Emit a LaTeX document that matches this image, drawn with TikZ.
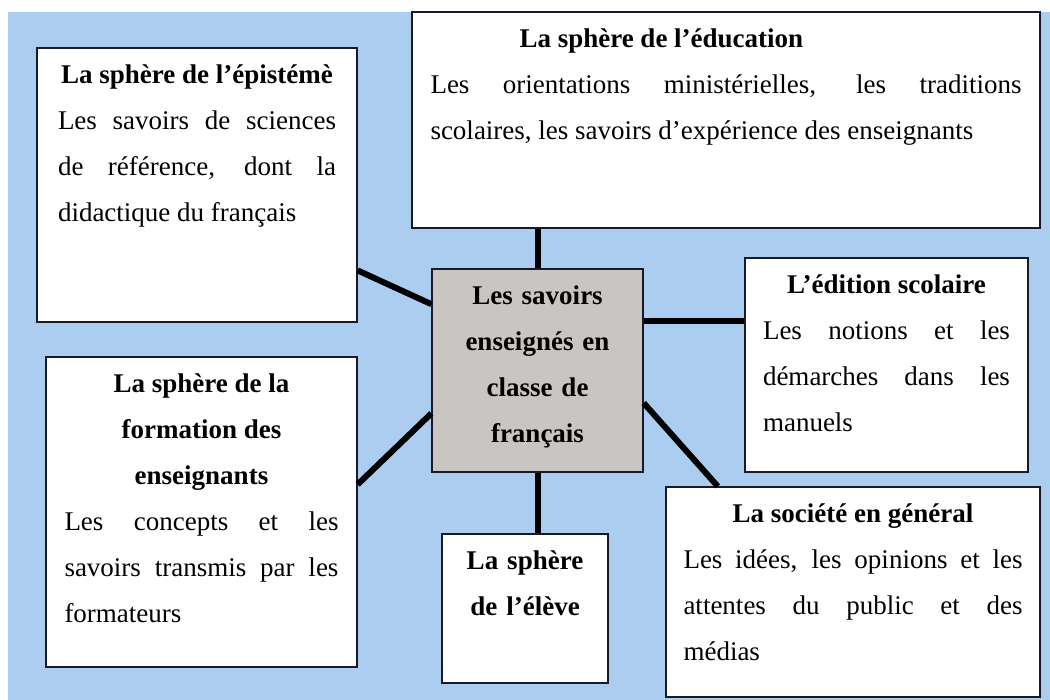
\documentclass[tikz,border=0pt]{standalone}
\usepackage{fontspec}
\setmainfont{Liberation Serif}
\usetikzlibrary{positioning}
\definecolor{fond}{RGB}{170,205,240}
\definecolor{cadre}{RGB}{25,25,40}
\definecolor{gris}{RGB}{200,197,194}
\hyphenpenalty=10000
\exhyphenpenalty=10000
\tolerance=9999
\begin{document}
\begin{tikzpicture}[x=1pt, y=-1pt,
      box/.style={draw=cadre,line width=1.3pt,fill=white,inner sep=0},
      hub/.style={box,fill=gris},
      txt/.style={inner sep=0,align=justify,font=\fontsize{27}{46}\selectfont},
      mid/.style={txt,align=center,font=\fontsize{27}{46}\selectfont\bfseries},
      link/.style={line width=6pt,draw=black} ]
      % background
      \useasboundingbox (0,0) rectangle (1050,700);
      \fill[fond] (8,12) rectangle (1050,700);

      % boxes
      \node[box,minimum width=320pt,minimum height=274pt] (epi) at (197,185) {};
      \node[box,minimum width=628pt,minimum height=216pt] (edu) at (726,120) {};
      \node[hub,minimum width=211pt,minimum height=203pt] (centre) at (537.5,370.5) {};
      \node[box,minimum width=283pt,minimum height=214pt] (edit) at (886.5,365) {};
      \node[box,minimum width=311pt,minimum height=310pt] (form) at (201.5,512) {};
      \node[box,minimum width=166pt,minimum height=149pt] (eleve) at (525,608.5) {};
      \node[box,minimum width=374pt,minimum height=210pt] (soc) at (853,592) {};

      % links
      \draw[link] (edu.south -| centre.north) -- (centre.north);
      \draw[link] (centre.south) -- (centre.south |- eleve.north);
      \draw[link] (centre.25) -- (centre.25 -| edit.west);
      \draw[link] (epi.-28.5) -- (centre.148);
      \draw[link] (form.10) -- (centre.202);
      \draw[link] (centre.-17) -- (soc.142);

      % texts
      \node[txt,text width=278pt,below=17pt of epi.north] (epi-t)
        {{\centering\bfseries La sphère de l’épistémè\par}
         Les savoirs de sciences\linebreak de référence, dont la\linebreak didactique du français};
      \node[txt,text width=591pt,below=17pt of edu.north] (edu-t)
        {\hspace*{89pt}\textbf{La sphère de l’éducation}\par
         Les orientations ministérielles, les traditions\linebreak scolaires, les savoirs d’expérience des enseignants};
      \node[mid,text width=200pt,below=17pt of centre.north] (centre-t)
        {Les savoirs\\enseignés en\\classe de\\français};
      \node[txt,text width=247pt,below=17pt of edit.north] (edit-t)
        {{\centering\bfseries L’édition scolaire\par}
         Les notions et les\linebreak démarches dans les\linebreak manuels};
      \node[txt,text width=274pt,below=17pt of form.north] (form-t)
        {{\centering\bfseries La sphère de la\\formation des\\enseignants\par}
         Les concepts et les\linebreak savoirs transmis par les\linebreak formateurs};
      \node[mid,text width=150pt,below=17pt of eleve.north] (eleve-t)
        {La sphère\\de l’élève};
      \node[txt,text width=339pt,below=17pt of soc.north] (soc-t)
        {{\centering\bfseries La société en général\par}
         Les idées, les opinions et les\linebreak attentes du public et des\linebreak médias};
    \end{tikzpicture}
\end{document}
